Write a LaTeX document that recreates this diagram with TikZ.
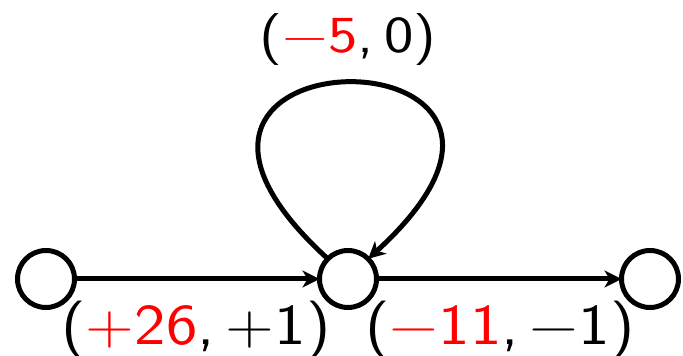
\documentclass[tikz,border=0pt]{standalone}
\usepackage{fontspec}
\usetikzlibrary{arrows.meta}
\begin{document}
\begin{tikzpicture}[x=1pt,y=1pt,
  state/.style={circle,draw,line width=5pt,minimum size=57pt,inner sep=0pt,outer sep=0pt},
  edge/.style={line width=5pt,-{Stealth[length=17pt,width=17pt,inset=5pt]}},
  lbltop/.style={font=\fontsize{52}{60}\selectfont\sffamily,inner sep=0pt,anchor=base},
  lblbot/.style={font=\fontsize{58}{66}\selectfont\sffamily,inner sep=0pt,anchor=base}]
\useasboundingbox (0,0) rectangle (683,356);
\node[state] (a) at (46,77) {};
\node[state] (b) at (348,77) {};
\node[state] (c) at (650,77) {};
\draw[edge] (a) -- (b);
\draw[edge] (b) -- (c);
\draw[edge] (b.135) .. controls +(-258,235) and +(258,235) .. (b.45);
\node[lbltop] (l1) at (348,303) {\scalebox{1.2}[1]{(\textcolor{red}{−5},\,0)}};
\node[lblbot] (l2) at (196,11) {\scalebox{1.15}[1]{(\textcolor{red}{+26},\,+1)}};
\node[lblbot] (l3) at (500,11) {\scalebox{1.15}[1]{(\textcolor{red}{−11},\,−1)}};
\end{tikzpicture}
\end{document}
